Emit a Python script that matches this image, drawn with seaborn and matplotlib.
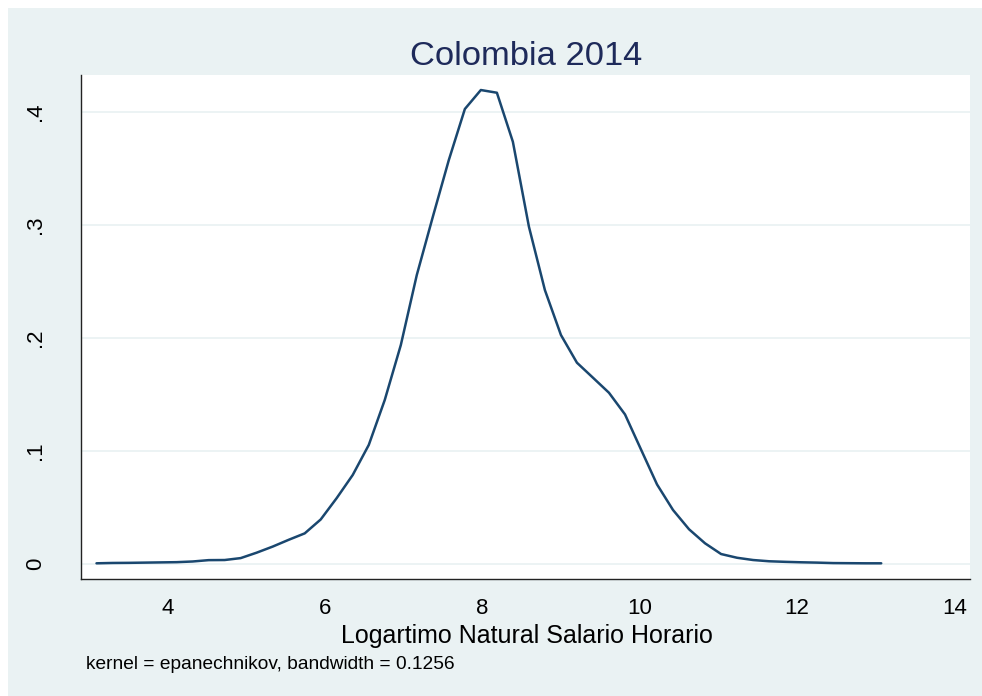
import numpy as np
import pandas as pd
import matplotlib
matplotlib.use("Agg")
import matplotlib.pyplot as plt
from matplotlib.patches import Rectangle
import seaborn as sns

# ---- data ----
x_vals = [3.100, 3.304, 3.507, 3.711, 3.914, 4.118, 4.321, 4.525, 4.728, 4.932,
          5.135, 5.339, 5.542, 5.746, 5.949, 6.153, 6.356, 6.560, 6.763, 6.967,
          7.170, 7.374, 7.577, 7.781, 7.984, 8.188, 8.391, 8.595, 8.798, 9.002,
          9.205, 9.409, 9.612, 9.816, 10.019, 10.223, 10.426, 10.630, 10.833, 11.037,
          11.240, 11.444, 11.647, 11.851, 12.054, 12.258, 12.461, 12.665, 12.868, 13.072]
density = [0.0002, 0.0005, 0.0006, 0.0008, 0.0010, 0.0012, 0.0018, 0.0030, 0.0031, 0.0048,
           0.0096, 0.0150, 0.0210, 0.0267, 0.0390, 0.0580, 0.0784, 0.1050, 0.1448, 0.1934,
           0.2554, 0.3070, 0.3572, 0.4024, 0.4192, 0.4168, 0.3734, 0.2982, 0.2421, 0.2023,
           0.1778, 0.1645, 0.1512, 0.1320, 0.1010, 0.0700, 0.0474, 0.0303, 0.0179, 0.0084,
           0.0051, 0.0031, 0.0020, 0.0015, 0.0011, 0.0008, 0.0004, 0.0003, 0.0002, 0.0002]
x_ticks = [4, 6, 8, 10, 12, 14]
y_ticks = [0, 0.1, 0.2, 0.3, 0.4]
y_tick_labels = ["0", ".1", ".2", ".3", ".4"]
title = "Colombia 2014"
x_label = "Logartimo Natural Salario Horario"
note = "kernel = epanechnikov, bandwidth = 0.1256"

BG = "#EAF2F3"
GRID = "#EAF2F3"
LINE = "#1A476F"
TITLE_C = "#1E2A5A"

sns.set_theme(style="white")
plt.rcParams["font.family"] = ["Liberation Sans", "DejaVu Sans"]

W, H = 982, 696
fig = plt.figure(figsize=(W / 100, H / 100), dpi=100, facecolor="white")
fig.patches.append(Rectangle((8 / W, 0), 1, (H - 8) / H, transform=fig.transFigure,
                             facecolor=BG, edgecolor="none", zorder=-10))

left, right, top, bottom = 81, 970, 75, 579
ax = fig.add_axes([left / W, (H - bottom) / H, (right - left) / W, (bottom - top) / H])
ax.set_facecolor("white")

for yv in y_ticks:
    ax.axhline(yv, color=GRID, lw=1.3, zorder=0)

df = pd.DataFrame({"x": x_vals, "density": density})
sns.lineplot(data=df, x="x", y="density", ax=ax, color=LINE, lw=1.8, zorder=3)

ax.set_xlim(2.903, 14.20)
ax.set_ylim(-0.0137, 0.4325)
ax.set_xticks(x_ticks)
ax.set_xticklabels([str(t) for t in x_ticks])
ax.set_yticks(y_ticks)
ax.set_yticklabels(y_tick_labels)

for s in ["top", "right"]:
    ax.spines[s].set_visible(False)
for s in ["left", "bottom"]:
    ax.spines[s].set_color("#222222")
    ax.spines[s].set_linewidth(1.0)

ax.tick_params(axis="both", direction="out", length=7, width=1, color="#222222",
               labelsize=16, labelcolor="black")
ax.tick_params(axis="x", pad=7)
ax.tick_params(axis="y", pad=18, labelrotation=90)
for lab in ax.get_yticklabels():
    lab.set_va("center")

ax.set_xlabel(x_label, fontsize=18, color="black", va="top")
ax.xaxis.set_label_coords(0.502, (bottom - 624) / (bottom - top))
ax.set_ylabel("")

fig.text(526 / W, (H - 65) / H, title, ha="center", va="baseline",
         fontsize=24.8, color=TITLE_C)
fig.text(86 / W, (H - 669) / H, note, ha="left", va="baseline",
         fontsize=13.8, color="black")

fig.savefig("out.png", dpi=100, facecolor=fig.get_facecolor())
